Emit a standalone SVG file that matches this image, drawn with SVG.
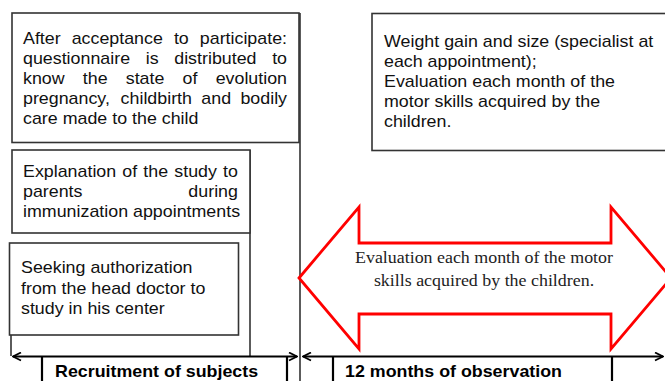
<svg xmlns="http://www.w3.org/2000/svg" width="665" height="381" viewBox="0 0 665 381">
<style>
.box{fill:#fff;stroke:#333;stroke-width:1.6}
.ln{stroke:#333;stroke-width:1.6;fill:none}
.ax{stroke:#000;stroke-width:2.2;fill:none}
.t{font-family:"Liberation Sans",Arial,sans-serif;font-size:16px;fill:#111}
.b{font-family:"Liberation Sans",Arial,sans-serif;font-size:16px;font-weight:bold;fill:#000}
.s{font-family:"Liberation Serif","Times New Roman",serif;font-size:16px;fill:#222}
</style>
<defs>
<marker id="ah" viewBox="0 0 10 10" refX="9" refY="5" markerWidth="10" markerHeight="10" markerUnits="userSpaceOnUse" orient="auto-start-reverse">
<path d="M1,1 L9,5 L1,9" fill="none" stroke="#000" stroke-width="1.8"/>
</marker>
</defs>
<g id="connectors">
<line class="ln" x1="300" y1="13" x2="300" y2="381"/>
<line class="ln" x1="250" y1="150" x2="250" y2="356"/>
<line class="ln" x1="11" y1="335" x2="11" y2="356"/>
<line class="ax" x1="13" y1="356.5" x2="297" y2="356.5" marker-start="url(#ah)" marker-end="url(#ah)"/>
<line class="ax" x1="303" y1="356.5" x2="663" y2="356.5" marker-start="url(#ah)" marker-end="url(#ah)"/>
</g>
<g id="box-acceptance">
<rect class="box" x="12" y="13" width="287" height="129.5"/>
<g transform="matrix(1.115 0 0 1 23 0)">
<text class="t" y="44"><tspan x="0">After</tspan><tspan x="43.65">acceptance</tspan><tspan x="135.33">to</tspan><tspan x="236.8" text-anchor="end">participate:</tspan></text>
<text class="t" y="64"><tspan x="0">questionnaire</tspan><tspan x="110.07">is</tspan><tspan x="135.64">distributed</tspan><tspan x="236.8" text-anchor="end">to</tspan></text>
<text class="t" y="84"><tspan x="0">know</tspan><tspan x="53.63">the</tspan><tspan x="92.16">state</tspan><tspan x="143.14">of</tspan><tspan x="236.8" text-anchor="end">evolution</tspan></text>
<text class="t" y="104"><tspan x="0">pregnancy,</tspan><tspan x="87.53">childbirth</tspan><tspan x="159.93">and</tspan><tspan x="236.8" text-anchor="end">bodily</tspan></text>
<text class="t" x="0" y="124">care made to the child</text>
</g>
</g>
<g id="box-explanation">
<rect class="box" x="12" y="150" width="238" height="83"/>
<g transform="matrix(1.115 0 0 1 23 0)">
<text class="t" y="177"><tspan x="0">Explanation</tspan><tspan x="89.11">of</tspan><tspan x="107.96">the</tspan><tspan x="135.71">study</tspan><tspan x="192.8" text-anchor="end">to</tspan></text>
<text class="t" y="197"><tspan x="0">parents</tspan><tspan x="192.8" text-anchor="end">during</tspan></text>
<text class="t" x="0" y="217">immunization appointments</text>
</g>
</g>
<g id="box-authorization">
<rect class="box" x="9.5" y="243" width="229" height="92"/>
<g transform="matrix(1.115 0 0 1 21 0)">
<text class="t" x="0" y="273">Seeking authorization</text>
<text class="t" x="0" y="294">from the head doctor to</text>
<text class="t" x="0" y="314">study in his center</text>
</g>
</g>
<g id="box-weight">
<rect class="box" x="372" y="13.5" width="310" height="137"/>
<g transform="matrix(1.115 0 0 1 384 0)">
<text class="t" x="0" y="47">Weight gain and size (specialist at</text>
<text class="t" x="0" y="67">each appointment);</text>
<text class="t" x="0" y="87">Evaluation each month of the</text>
<text class="t" x="0" y="107">motor skills acquired by the</text>
<text class="t" x="0" y="127">children.</text>
</g>
</g>
<g id="double-arrow">
<polygon points="299,278 359,207 359,243 611,243 611,207 671,278 611,349 611,314 359,314 359,349" fill="#fff" stroke="#ff0000" stroke-width="2.8" stroke-linejoin="miter"/>
<g transform="matrix(1.12 0 0 1 484 0)">
<text class="s" x="0" y="263" text-anchor="middle">Evaluation each month of the motor</text>
<text class="s" x="0" y="286" text-anchor="middle">skills acquired by the children.</text>
</g>
</g>
<g id="label-recruitment">
<line class="ax" x1="42" y1="356.5" x2="42" y2="381"/>
<line class="ax" x1="287" y1="356.5" x2="287" y2="381"/>
<g transform="matrix(1.115 0 0 1 55 0)">
<text class="b" x="0" y="377">Recruitment of subjects</text>
</g>
</g>
<g id="label-observation">
<line class="ax" x1="333" y1="356.5" x2="333" y2="381"/>
<line class="ax" x1="612" y1="356.5" x2="612" y2="381"/>
<g transform="matrix(1.115 0 0 1 345 0)">
<text class="b" x="0" y="377">12 months of observation</text>
</g>
</g>
</svg>
